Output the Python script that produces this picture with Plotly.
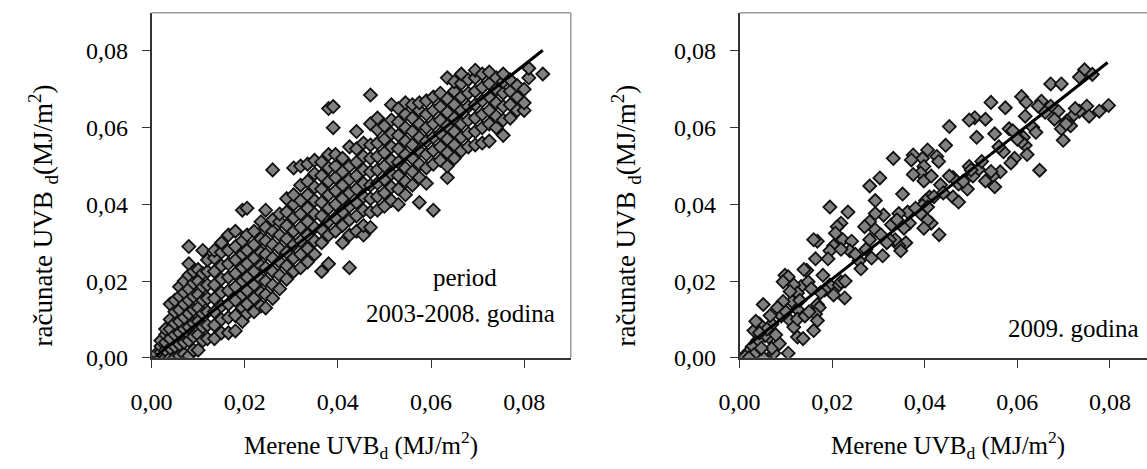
import plotly.graph_objects as go

# ---------------- data ----------------
# Left panel: period 2003-2008, points grouped by measured value (x) columns
left_col_x = [0.0010, 0.0020, 0.0030, 0.0040, 0.0050, 0.0060, 0.0070, 0.0080, 0.0090, 0.0100,
              0.0110, 0.0120, 0.0135, 0.0150, 0.0165, 0.0180, 0.0195, 0.0205, 0.0220, 0.0235,
              0.0245, 0.0260, 0.0275, 0.0290, 0.0305, 0.0320, 0.0335, 0.0350, 0.0365, 0.0380,
              0.0390, 0.0395, 0.0410, 0.0425, 0.0440, 0.0455, 0.0470, 0.0485, 0.0500, 0.0515,
              0.0530, 0.0545, 0.0560, 0.0575, 0.0590, 0.0605, 0.0620, 0.0635, 0.0650, 0.0665,
              0.0680, 0.0695, 0.0710, 0.0725, 0.0740, 0.0755, 0.0770, 0.0785, 0.0800, 0.0810,
              0.0840]
left_col_y = [
    [0.0000, 0.0010],
    [0.0000, 0.0015, 0.0030, 0.0045],
    [0.0000, 0.0020, 0.0040, 0.0060, 0.0075],
    [0.0000, 0.0025, 0.0050, 0.0075, 0.0100, 0.0140],
    [0.0000, 0.0030, 0.0060, 0.0090, 0.0120, 0.0150],
    [0.0005, 0.0035, 0.0065, 0.0095, 0.0125, 0.0160, 0.0185],
    [0.0010, 0.0040, 0.0075, 0.0105, 0.0140, 0.0170, 0.0200],
    [0.0005, 0.0045, 0.0080, 0.0115, 0.0150, 0.0180, 0.0215, 0.0245, 0.0290],
    [0.0020, 0.0055, 0.0090, 0.0125, 0.0160, 0.0195, 0.0225],
    [0.0020, 0.0060, 0.0095, 0.0130, 0.0165, 0.0200, 0.0230],
    [0.0045, 0.0080, 0.0115, 0.0150, 0.0185, 0.0220, 0.0280],
    [0.0050, 0.0085, 0.0120, 0.0155, 0.0190, 0.0225, 0.0255],
    [0.0050, 0.0085, 0.0120, 0.0155, 0.0190, 0.0225, 0.0260, 0.0280],
    [0.0065, 0.0100, 0.0135, 0.0170, 0.0205, 0.0240, 0.0275, 0.0300],
    [0.0065, 0.0105, 0.0140, 0.0175, 0.0210, 0.0245, 0.0280, 0.0320],
    [0.0070, 0.0110, 0.0150, 0.0185, 0.0220, 0.0255, 0.0290, 0.0330],
    [0.0095, 0.0130, 0.0165, 0.0200, 0.0235, 0.0270, 0.0305, 0.0385],
    [0.0115, 0.0140, 0.0175, 0.0210, 0.0245, 0.0280, 0.0320, 0.0390],
    [0.0120, 0.0155, 0.0190, 0.0225, 0.0260, 0.0295, 0.0330],
    [0.0135, 0.0170, 0.0205, 0.0240, 0.0275, 0.0310, 0.0355],
    [0.0130, 0.0165, 0.0200, 0.0235, 0.0270, 0.0305, 0.0340, 0.0385],
    [0.0155, 0.0190, 0.0225, 0.0260, 0.0295, 0.0330, 0.0360, 0.0490],
    [0.0180, 0.0215, 0.0250, 0.0285, 0.0320, 0.0355, 0.0375],
    [0.0205, 0.0240, 0.0275, 0.0310, 0.0345, 0.0380, 0.0415],
    [0.0225, 0.0260, 0.0295, 0.0330, 0.0365, 0.0400, 0.0425, 0.0495],
    [0.0235, 0.0270, 0.0305, 0.0340, 0.0375, 0.0410, 0.0450, 0.0500],
    [0.0250, 0.0285, 0.0320, 0.0355, 0.0390, 0.0425, 0.0460, 0.0505],
    [0.0270, 0.0305, 0.0340, 0.0375, 0.0410, 0.0445, 0.0480, 0.0515],
    [0.0225, 0.0300, 0.0335, 0.0370, 0.0405, 0.0440, 0.0475, 0.0510],
    [0.0245, 0.0320, 0.0355, 0.0390, 0.0425, 0.0460, 0.0495, 0.0530, 0.0650],
    [0.0600, 0.0655],
    [0.0330, 0.0365, 0.0400, 0.0435, 0.0470, 0.0500, 0.0530],
    [0.0300, 0.0345, 0.0380, 0.0415, 0.0450, 0.0485, 0.0520],
    [0.0235, 0.0320, 0.0360, 0.0395, 0.0430, 0.0465, 0.0500, 0.0550],
    [0.0330, 0.0370, 0.0405, 0.0440, 0.0475, 0.0510, 0.0545, 0.0590],
    [0.0320, 0.0345, 0.0385, 0.0420, 0.0455, 0.0490, 0.0525, 0.0560],
    [0.0340, 0.0380, 0.0415, 0.0450, 0.0485, 0.0520, 0.0555, 0.0610, 0.0685],
    [0.0385, 0.0420, 0.0455, 0.0490, 0.0525, 0.0560, 0.0595, 0.0625],
    [0.0395, 0.0430, 0.0465, 0.0500, 0.0535, 0.0570, 0.0605],
    [0.0410, 0.0445, 0.0480, 0.0515, 0.0550, 0.0585, 0.0620, 0.0660],
    [0.0400, 0.0440, 0.0475, 0.0510, 0.0545, 0.0580, 0.0615, 0.0650],
    [0.0425, 0.0460, 0.0495, 0.0530, 0.0565, 0.0600, 0.0635, 0.0665],
    [0.0450, 0.0485, 0.0520, 0.0555, 0.0590, 0.0625, 0.0660],
    [0.0405, 0.0470, 0.0505, 0.0540, 0.0575, 0.0610, 0.0645, 0.0665],
    [0.0455, 0.0495, 0.0530, 0.0565, 0.0600, 0.0635, 0.0670],
    [0.0385, 0.0505, 0.0540, 0.0575, 0.0610, 0.0645, 0.0680],
    [0.0515, 0.0550, 0.0585, 0.0620, 0.0655, 0.0690],
    [0.0470, 0.0500, 0.0535, 0.0570, 0.0605, 0.0640, 0.0675, 0.0730],
    [0.0520, 0.0555, 0.0590, 0.0625, 0.0660, 0.0695, 0.0720],
    [0.0540, 0.0575, 0.0610, 0.0645, 0.0680, 0.0715, 0.0740],
    [0.0550, 0.0585, 0.0620, 0.0655, 0.0690, 0.0725],
    [0.0555, 0.0590, 0.0625, 0.0660, 0.0695, 0.0730, 0.0750],
    [0.0560, 0.0600, 0.0635, 0.0670, 0.0705, 0.0740],
    [0.0565, 0.0610, 0.0645, 0.0680, 0.0715, 0.0745],
    [0.0600, 0.0630, 0.0665, 0.0700, 0.0730],
    [0.0580, 0.0620, 0.0655, 0.0690, 0.0720, 0.0740],
    [0.0625, 0.0660, 0.0695, 0.0725],
    [0.0645, 0.0680, 0.0710],
    [0.0645, 0.0665, 0.0700],
    [0.0730, 0.0755],
    [0.0740],
]
left_fit_x = [0.0010, 0.0840]
left_fit_y = [0.0005, 0.0802]

# Right panel: year 2009
right_x = [0.0745, 0.0734, 0.0762, 0.0672, 0.0695, 0.0797, 0.0777, 0.0750, 0.0734, 0.0719,
           0.0707, 0.0695, 0.0699, 0.0715, 0.0688, 0.0672, 0.0680, 0.0609, 0.0619, 0.0652,
           0.0645, 0.0648, 0.0543, 0.0574, 0.0508, 0.0496, 0.0531, 0.0453, 0.0551, 0.0512,
           0.0582, 0.0590, 0.0617, 0.0633, 0.0613, 0.0640, 0.0617, 0.0609, 0.0570, 0.0594,
           0.0621, 0.0586, 0.0563, 0.0547, 0.0551, 0.0531, 0.0516, 0.0496, 0.0504, 0.0492,
           0.0473, 0.0461, 0.0453, 0.0461, 0.0473, 0.0523, 0.0543, 0.0445, 0.0426, 0.0430,
           0.0406, 0.0395, 0.0375, 0.0371, 0.0398, 0.0391, 0.0375, 0.0398, 0.0414, 0.0434,
           0.0410, 0.0402, 0.0395, 0.0406, 0.0414, 0.0406, 0.0398, 0.0431, 0.0391, 0.0332,
           0.0303, 0.0281, 0.0352, 0.0293, 0.0363, 0.0344, 0.0367, 0.0355, 0.0359, 0.0344,
           0.0348, 0.0336, 0.0324, 0.0328, 0.0311, 0.0293, 0.0281, 0.0293, 0.0305, 0.0309,
           0.0281, 0.0273, 0.0258, 0.0262, 0.0270, 0.0234, 0.0195, 0.0219, 0.0211, 0.0207,
           0.0223, 0.0203, 0.0195, 0.0191, 0.0242, 0.0238, 0.0219, 0.0168, 0.0160, 0.0164,
           0.0145, 0.0133, 0.0148, 0.0180, 0.0195, 0.0203, 0.0215, 0.0227, 0.0219, 0.0184,
           0.0168, 0.0172, 0.0164, 0.0168, 0.0160, 0.0125, 0.0137, 0.0105, 0.0098, 0.0105,
           0.0094, 0.0117, 0.0125, 0.0113, 0.0109, 0.0125, 0.0094, 0.0082, 0.0090, 0.0109,
           0.0117, 0.0125, 0.0141, 0.0070, 0.0063, 0.0055, 0.0051, 0.0043, 0.0031, 0.0039,
           0.0027, 0.0016, 0.0012, 0.0023, 0.0051, 0.0074, 0.0070, 0.0086, 0.0031, 0.0047,
           0.0059, 0.0078, 0.0035, 0.0020, 0.0043, 0.0066, 0.0100, 0.0130, 0.0155, 0.0175,
           0.0139, 0.0150, 0.0228, 0.0250, 0.0285, 0.0318, 0.0340, 0.0380, 0.0420, 0.0440,
           0.0483, 0.0500, 0.0560, 0.0600, 0.0660, 0.0705, 0.0725, 0.0755]
right_y = [0.0751, 0.0732, 0.0739, 0.0714, 0.0714, 0.0658, 0.0643, 0.0656, 0.0643, 0.0630,
           0.0618, 0.0597, 0.0567, 0.0605, 0.0643, 0.0656, 0.0622, 0.0681, 0.0666, 0.0669,
           0.0656, 0.0489, 0.0666, 0.0652, 0.0626, 0.0620, 0.0622, 0.0603, 0.0584, 0.0575,
           0.0597, 0.0592, 0.0630, 0.0601, 0.0575, 0.0588, 0.0554, 0.0563, 0.0537, 0.0520,
           0.0530, 0.0508, 0.0485, 0.0474, 0.0446, 0.0461, 0.0491, 0.0499, 0.0474, 0.0440,
           0.0453, 0.0470, 0.0474, 0.0419, 0.0406, 0.0512, 0.0486, 0.0554, 0.0525, 0.0512,
           0.0542, 0.0520, 0.0529, 0.0516, 0.0499, 0.0482, 0.0478, 0.0461, 0.0474, 0.0451,
           0.0419, 0.0410, 0.0397, 0.0393, 0.0351, 0.0359, 0.0338, 0.0321, 0.0376, 0.0520,
           0.0469, 0.0448, 0.0427, 0.0410, 0.0380, 0.0376, 0.0351, 0.0338, 0.0300, 0.0292,
           0.0279, 0.0308, 0.0308, 0.0347, 0.0372, 0.0376, 0.0355, 0.0334, 0.0321, 0.0266,
           0.0308, 0.0283, 0.0253, 0.0232, 0.0342, 0.0380, 0.0393, 0.0351, 0.0342, 0.0325,
           0.0308, 0.0292, 0.0279, 0.0258, 0.0304, 0.0279, 0.0283, 0.0304, 0.0308, 0.0258,
           0.0228, 0.0186, 0.0198, 0.0215, 0.0190, 0.0164, 0.0190, 0.0156, 0.0198, 0.0177,
           0.0139, 0.0131, 0.0114, 0.0097, 0.0071, 0.0054, 0.0050, 0.0012, 0.0215, 0.0211,
           0.0198, 0.0190, 0.0169, 0.0147, 0.0173, 0.0126, 0.0147, 0.0131, 0.0109, 0.0097,
           0.0080, 0.0101, 0.0109, 0.0088, 0.0054, 0.0058, 0.0139, 0.0088, 0.0071, 0.0046,
           0.0029, 0.0012, 0.0003, 0.0000, 0.0000, 0.0012, 0.0025, 0.0037, 0.0008, 0.0025,
           0.0075, 0.0060, 0.0095, 0.0000, 0.0065, 0.0110, 0.0120, 0.0150, 0.0180, 0.0170,
           0.0230, 0.0120, 0.0200, 0.0270, 0.0260, 0.0300, 0.0360, 0.0390, 0.0420, 0.0430,
           0.0460, 0.0490, 0.0550, 0.0570, 0.0640, 0.0610, 0.0650, 0.0630]
right_fit_x = [0.0020, 0.0795]
right_fit_y = [0.0035, 0.0770]

x_ticks = [0.00, 0.02, 0.04, 0.06, 0.08]
y_ticks = [0.00, 0.02, 0.04, 0.06, 0.08]

# -------------------------------------------------------------
left_x, left_y = [], []
for cx, ys in zip(left_col_x, left_col_y):
    for v in ys:
        left_x.append(cx)
        left_y.append(v)

W, H = 1147, 469
FONT = "Liberation Serif, 'Times New Roman', Times, serif"

def px_x(p):
    return p / W

def px_y(p):
    return 1 - p / H

marker = dict(symbol="diamond", size=10, color="#808080",
              line=dict(color="#111111", width=1.8))

fig = go.Figure()
fig.add_trace(go.Scatter(x=left_x, y=left_y, mode="markers", marker=marker,
                         xaxis="x", yaxis="y", showlegend=False))
fig.add_trace(go.Scatter(x=left_fit_x, y=left_fit_y, mode="lines",
                         line=dict(color="#000000", width=3),
                         xaxis="x", yaxis="y", showlegend=False))
fig.add_trace(go.Scatter(x=right_x, y=right_y, mode="markers", marker=marker,
                         xaxis="x2", yaxis="y2", showlegend=False))
fig.add_trace(go.Scatter(x=right_fit_x, y=right_fit_y, mode="lines",
                         line=dict(color="#000000", width=3),
                         xaxis="x2", yaxis="y2", showlegend=False))

axis_common = dict(showgrid=False, zeroline=False, showline=True,
                   linecolor="#333333", linewidth=1.5,
                   ticks="outside", ticklen=8, tickwidth=1.2, tickcolor="#333333",
                   tickfont=dict(family=FONT, size=24, color="#000000"),
                   tickformat=".2f", fixedrange=True)

y_dom = [px_y(368), px_y(13)]
fig.update_layout(
    width=W, height=H,
    margin=dict(l=0, r=0, t=0, b=0),
    paper_bgcolor="white", plot_bgcolor="white",
    separators=", ",
    xaxis=dict(domain=[px_x(133), px_x(560)], range=[0, 0.09], tickvals=x_ticks,
               anchor="y", ticklabelstandoff=14, **axis_common),
    yaxis=dict(domain=y_dom, range=[0, 0.09], tickvals=y_ticks,
               anchor="x", ticklabelstandoff=9, **axis_common),
    xaxis2=dict(domain=[px_x(732), 1.0], range=[0, 0.0880], tickvals=x_ticks,
                anchor="y2", ticklabelstandoff=14, **axis_common),
    yaxis2=dict(domain=y_dom, range=[0, 0.09], tickvals=y_ticks,
                anchor="x2", ticklabelstandoff=9, **axis_common),
)

# frame (top / right) in gray
frame_color = "#999999"
fig.add_shape(type="line", xref="x domain", yref="y domain", x0=0, x1=1, y0=1, y1=1,
              line=dict(color=frame_color, width=1.5))
fig.add_shape(type="line", xref="x domain", yref="y domain", x0=1, x1=1, y0=0, y1=1,
              line=dict(color=frame_color, width=1.5))
fig.add_shape(type="line", xref="x2 domain", yref="y2 domain", x0=0, x1=1, y0=1, y1=1,
              line=dict(color=frame_color, width=1.5))

title_font = dict(family=FONT, size=25, color="#000000")
y_title_font = dict(family=FONT, size=27, color="#000000")
x_title = "Merene UVB<sub>d</sub> (MJ/m<sup>2</sup>)"
y_title = "računate UVB <sub>d</sub>(MJ/m<sup>2</sup>)"

ann = [
    dict(text=x_title, x=px_x(346), y=px_y(458), font=title_font),
    dict(text=x_title, x=px_x(944), y=px_y(458), font=title_font),
    dict(text=y_title, x=px_x(22), y=px_y(222), textangle=-90, font=y_title_font),
    dict(text=y_title, x=px_x(616), y=px_y(222), textangle=-90, font=y_title_font),
    dict(text="period", x=px_x(452), y=px_y(285), font=title_font),
    dict(text="2003-2008. godina", x=px_x(448), y=px_y(322), font=title_font),
    dict(text="2009. godina", x=px_x(1072), y=px_y(338), font=title_font),
]
for a in ann:
    fig.add_annotation(xref="paper", yref="paper", showarrow=False,
                       xanchor="center", yanchor="middle", **a)

fig.write_html("out.html")
